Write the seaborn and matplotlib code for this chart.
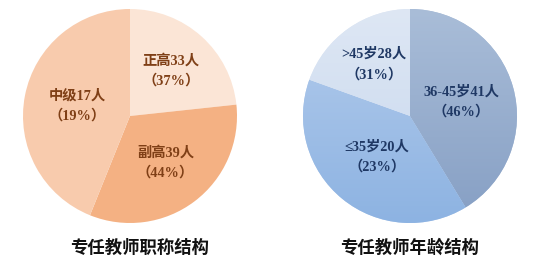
import numpy as np
import matplotlib
matplotlib.use("Agg")
import matplotlib.pyplot as plt
import seaborn as sns
from matplotlib.colors import LinearSegmentedColormap

sns.set_theme(style="white")
plt.rcParams['font.family'] = ['Noto Sans CJK SC', 'DejaVu Sans']

# ---- data: left pie (title structure) ----
title_left = "专任教师职称结构"
cats_left = ["正高", "副高", "中级"]
counts_left = [33, 39, 17]
pct_left = [37, 44, 19]
# wedge shares as drawn in the reference picture
shares_left = [23.3, 32.8, 43.9]
colors_left = ["#FBE5D6", "#F4B183", "#F8CBAD"]

# ---- data: right pie (age structure) ----
title_right = "专任教师年龄结构"
cats_right = ["36-45岁", "≤35岁", ">45岁"]
counts_right = [41, 20, 28]
pct_right = [46, 23, 31]
shares_right = [41.3, 39.2, 19.5]
grad_right = [("#A9BDD8", "#869FC4"), ("#B4CCEC", "#8DB3E2"), ("#DEE7F4", "#C6D7EE")]

W, H = 554, 266
fig = plt.figure(figsize=(W / 100, H / 100), dpi=100)
fig.patch.set_facecolor("white")

R_PX = 107
def make_ax(cx, cy):
    return fig.add_axes([(cx - R_PX) / W, (H - cy - R_PX) / H, 2 * R_PX / W, 2 * R_PX / H])

label_font = dict(family=['Liberation Serif', 'Noto Sans CJK SC'], fontweight='bold', fontsize=10.3)

def draw_pie(ax, shares, colors, cats, counts, pcts, txtcolor, gradients=None, dists=None):
    wedges, _ = ax.pie(shares, colors=colors, startangle=90, counterclock=False,
                       radius=1.0, wedgeprops=dict(linewidth=0))
    if gradients is not None:
        for w, (c1, c2) in zip(wedges, gradients):
            cmap = LinearSegmentedColormap.from_list("g", [c2, c1])
            grad = np.linspace(0, 1, 256).reshape(-1, 1)
            im = ax.imshow(grad, extent=[-1, 1, -1, 1], origin="lower", cmap=cmap,
                           aspect="auto", zorder=w.get_zorder() + 0.1)
            im.set_clip_path(w)
    for i, w in enumerate(wedges):
        ang = np.deg2rad((w.theta1 + w.theta2) / 2)
        d = dists[i]
        x, y = d * np.cos(ang), d * np.sin(ang)
        ax.text(x, y, f"{cats[i]}{counts[i]}人\n（{pcts[i]}%）", ha="center", va="center",
                color=txtcolor, linespacing=1.6, zorder=10, **label_font)
    ax.set_xlim(-1, 1)
    ax.set_ylim(-1, 1)
    ax.set_aspect("equal")
    ax.axis("off")

axL = make_ax(130, 116)
draw_pie(axL, shares_left, colors_left, cats_left, counts_left, pct_left, "#7F3F16",
         dists=[0.57, 0.55, 0.50])
axR = make_ax(410, 116)
draw_pie(axR, shares_right, [c[0] for c in grad_right], cats_right, counts_right, pct_right,
         "#1F3864", gradients=grad_right, dists=[0.50, 0.49, 0.59])

fig.text(140 / W, 1 - 248 / H, title_left, ha="center", va="center", fontsize=12.5,
         color="#111111", fontweight="bold")
fig.text(410 / W, 1 - 248 / H, title_right, ha="center", va="center", fontsize=12.5,
         color="#111111", fontweight="bold")

fig.savefig("out.png", dpi=100, facecolor="white")
